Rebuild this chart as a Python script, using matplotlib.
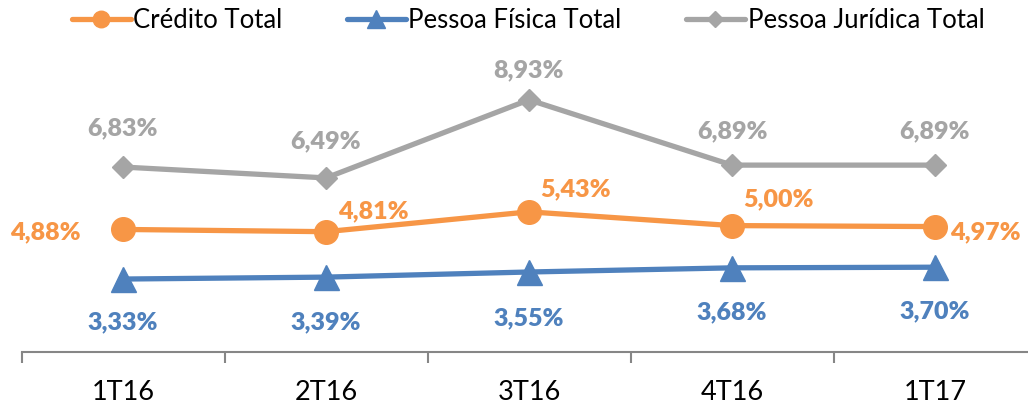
import matplotlib.pyplot as plt

# data
periods = ["1T16", "2T16", "3T16", "4T16", "1T17"]
credito_total = [4.88, 4.81, 5.43, 5.00, 4.97]
pessoa_fisica = [3.33, 3.39, 3.55, 3.68, 3.70]
pessoa_juridica = [6.83, 6.49, 8.93, 6.89, 6.89]

orange = "#F79646"
blue = "#4F81BD"
gray = "#A5A5A5"

plt.rcParams["font.family"] = ["Lato", "DejaVu Sans"]

fig = plt.figure(figsize=(10.28, 4.07), dpi=100)
ax = fig.add_axes([21.5 / 1028, 55 / 407, 1015 / 1028, 288 / 407])

x = list(range(len(periods)))
ax.plot(x, credito_total, color=orange, lw=3.8, marker="o", ms=17,
        label="Crédito Total", solid_capstyle="round")
ax.plot(x, pessoa_fisica, color=blue, lw=3.8, marker="^", ms=18,
        label="Pessoa Física Total", solid_capstyle="round")
ax.plot(x, pessoa_juridica, color=gray, lw=3.8, marker="D", ms=11,
        label="Pessoa Jurídica Total", solid_capstyle="round")

ax.set_xlim(-0.5, 4.5)
ax.set_ylim(1.05, 10.05)

def fmt(v):
    return ("%.2f" % v).replace(".", ",") + "%"

# label offsets in pixels
off_cred = [(-78, -3), (47, 20), (47, 23), (46, 26), (50, -6)]
off_pf = [(0, -43), (0, -45), (0, -46), (0, -44), (0, -44)]
off_pj = [(0, 39), (0, 37), (0, 30), (0, 34), (0, 34)]

for series, offs, col in [(credito_total, off_cred, orange),
                          (pessoa_fisica, off_pf, blue),
                          (pessoa_juridica, off_pj, gray)]:
    for i, v in enumerate(series):
        ax.annotate(fmt(v), (i, v), xytext=offs[i], textcoords="offset pixels",
                    ha="center", va="center", color=col, fontsize=18,
                    fontweight="heavy")

for s in ["top", "right", "left"]:
    ax.spines[s].set_visible(False)
ax.spines["bottom"].set_color("#868686")
ax.spines["bottom"].set_linewidth(1.5)
ax.set_yticks([])
ax.set_xticks([i - 0.5 for i in range(6)], minor=False)
ax.set_xticklabels([])
ax.tick_params(axis="x", length=8, width=1.5, color="#868686")
ax.set_xticks(x, minor=True)
ax.set_xticklabels(periods, minor=True, fontsize=19.5, color="#000000")
ax.tick_params(axis="x", which="minor", length=0, pad=20)

fig.legend(loc="center", bbox_to_anchor=(528 / 1028, 1 - 20 / 407), ncol=3,
           frameon=False, fontsize=18.5, markerscale=0.7, handlelength=2.3,
           handletextpad=0.1, columnspacing=2.5)

fig.savefig("out.png", dpi=100)
